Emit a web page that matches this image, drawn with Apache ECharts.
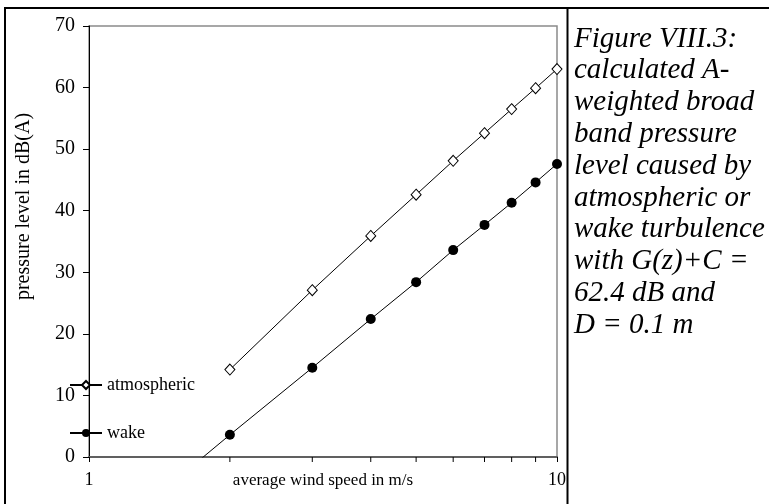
<!DOCTYPE html>
<html>
<head>
<meta charset="utf-8">
<script src="https://cdn.jsdelivr.net/npm/echarts@6/dist/echarts.min.js"></script>
<style>html,body{margin:0;padding:0;background:#fff;}#c{width:769px;height:504px;}</style>
</head>
<body>
<div id="c"></div>
<script>
// Data
const windSpeeds = [2, 3, 4, 5, 6, 7, 8, 9, 10];
const atmosphericLevels = [14.2, 27.1, 35.9, 42.6, 48.1, 52.6, 56.5, 59.9, 63.0];
const wakeSpeeds = [1.5, 2, 3, 4, 5, 6, 7, 8, 9, 10];
const wakeLevels = [-4.3, 3.6, 14.5, 22.4, 28.4, 33.6, 37.7, 41.3, 44.6, 47.6];
const minorTickValues = [2, 3, 4, 5, 6, 7, 8, 9];
const captionLines = [
  "Figure VIII.3:",
  "calculated A-",
  "weighted broad",
  "band pressure",
  "level caused by",
  "atmospheric or",
  "wake turbulence",
  "with G(z)+C =",
  "62.4 dB and",
  "D = 0.1 m"
];

const FONT = '"Liberation Serif", "Times New Roman", serif';
const chart = echarts.init(document.getElementById('c'), null, {renderer: 'canvas'});

const atmData = windSpeeds.map((x, i) => [x, atmosphericLevels[i]]);
const wakeData = wakeSpeeds.map((x, i) => {
  const item = {value: [x, wakeLevels[i]]};
  if (wakeLevels[i] < 0) item.symbol = 'none';
  return item;
});

chart.setOption({
  animation: false,
  backgroundColor: '#fff',
  grid: {left: 89, top: 26, right: 212, bottom: 47, show: true, borderColor: '#8a8a8a', borderWidth: 1.5, backgroundColor: 'transparent'},
  xAxis: {
    type: 'log', logBase: 10, min: 1, max: 10,
    name: 'average wind speed in m/s', nameLocation: 'middle', nameGap: 15, nameMoveOverlap: false,
    nameTextStyle: {fontFamily: FONT, fontSize: 17, color: '#000'},
    axisLine: {show: true, onZero: false, lineStyle: {color: '#606060', width: 2}},
    axisTick: {show: true, inside: false, length: 5, lineStyle: {color: '#000'}},
    axisLabel: {fontFamily: FONT, fontSize: 18, color: '#000', margin: 14},
    splitLine: {show: false}
  },
  yAxis: {
    type: 'value', min: 0, max: 70, interval: 10,
    name: 'pressure level in dB(A)', nameLocation: 'middle', nameGap: 55, nameRotate: 90, nameMoveOverlap: false,
    nameTextStyle: {fontFamily: FONT, fontSize: 20, color: '#000', padding: [0, 0, 0, 70]},
    axisLine: {show: true, lineStyle: {color: '#000', width: 1}},
    axisTick: {show: true, inside: false, length: 6, lineStyle: {color: '#000'}},
    axisLabel: {fontFamily: FONT, fontSize: 20, color: '#000', margin: 14},
    splitLine: {show: false}
  },
  legend: {
    orient: 'vertical', left: 69, top: 376, itemWidth: 32, itemHeight: 10, itemGap: 30,
    padding: 0,
    textStyle: {fontFamily: FONT, fontSize: 18, color: '#000'},
    data: [
      {name: 'atmospheric'},
      {name: 'wake'}
    ]
  },
  series: [
    {
      name: 'atmospheric', type: 'line', data: atmData,
      symbol: 'diamond', symbolSize: [10, 11], showAllSymbol: true,
      lineStyle: {color: '#000', width: 1},
      itemStyle: {color: '#fff', borderColor: '#000', borderWidth: 1},
      z: 3
    },
    {
      name: 'wake', type: 'line', data: wakeData, clip: true,
      symbol: 'circle', symbolSize: 10, showAllSymbol: true,
      lineStyle: {color: '#000', width: 1},
      itemStyle: {color: '#000', borderColor: '#000', borderWidth: 0},
      z: 3
    },
    {
      name: 'ticks', type: 'custom', data: minorTickValues.map(v => [v, 0]),
      silent: true, clip: false,
      renderItem: function (params, api) {
        const p = api.coord([api.value(0), api.value(1)]);
        return {type: 'line', shape: {x1: p[0], y1: p[1], x2: p[0], y2: p[1] + 5}, style: {stroke: '#000', lineWidth: 1}};
      },
      z: 4
    }
  ],
  graphic: [
    {type: 'rect', shape: {x: 5, y: 8, width: 800, height: 600}, style: {fill: 'none', stroke: '#000', lineWidth: 2}, silent: true, z: 10},
    {type: 'line', shape: {x1: 567.5, y1: 8, x2: 567.5, y2: 504}, style: {stroke: '#000', lineWidth: 2}, silent: true, z: 10},
    {
      type: 'text', left: 574, top: 23,
      style: {text: captionLines.join('\n'), font: 'italic 29px ' + FONT, fill: '#000', lineHeight: 31.8},
      z: 10
    }
  ]
});
</script>
</body>
</html>
